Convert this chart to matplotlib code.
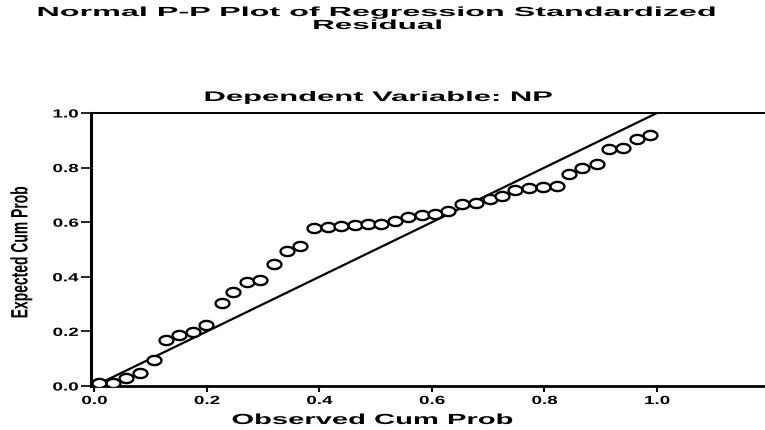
import matplotlib.pyplot as plt
import numpy as np
from matplotlib.path import Path
from matplotlib.patheffects import AbstractPathEffect
from matplotlib.transforms import Affine2D

# observed vs expected cumulative probability
observed = [0.009, 0.033, 0.057, 0.081, 0.106, 0.127, 0.150, 0.176, 0.199,
            0.227, 0.247, 0.272, 0.294, 0.320, 0.343, 0.365, 0.391, 0.416,
            0.439, 0.463, 0.487, 0.510, 0.534, 0.558, 0.582, 0.605, 0.629,
            0.653, 0.678, 0.703, 0.725, 0.748, 0.772, 0.797, 0.822, 0.844,
            0.867, 0.893, 0.915, 0.939, 0.964, 0.988]
expected = [0.011, 0.010, 0.030, 0.047, 0.094, 0.170, 0.188, 0.199, 0.225,
            0.305, 0.346, 0.382, 0.388, 0.446, 0.495, 0.514, 0.578, 0.582,
            0.585, 0.590, 0.594, 0.594, 0.603, 0.619, 0.627, 0.631, 0.642,
            0.666, 0.670, 0.685, 0.697, 0.719, 0.724, 0.729, 0.734, 0.776,
            0.798, 0.813, 0.867, 0.873, 0.904, 0.919]
ticks = [0.0, 0.2, 0.4, 0.6, 0.8, 1.0]
tick_labels = ["0.0", "0.2", "0.4", "0.6", "0.8", "1.0"]


class StretchX(AbstractPathEffect):
    # the scanned SPSS chart is squeezed into a wide image, so the text
    # looks extended; widen the glyphs in screen x about an anchor
    def __init__(self, sx, anchor="center"):
        super().__init__()
        self.sx = sx
        self.anchor = anchor

    def draw_path(self, renderer, gc, tpath, affine, rgbFace=None):
        xs = affine.transform(tpath.vertices)[:, 0]
        if self.anchor == "right":
            x0 = xs.max()
        else:
            x0 = (xs.min() + xs.max()) / 2
        wide = Affine2D().translate(-x0, 0).scale(self.sx, 1).translate(x0, 0)
        renderer.draw_path(gc, tpath, affine + wide, rgbFace)


plt.rcParams["font.family"] = ["Liberation Sans", "DejaVu Sans"]
plt.rcParams["font.weight"] = "bold"
plt.rcParams["axes.labelweight"] = "bold"

# flattened circle, like the stretched SPSS markers
t = np.linspace(0, 2 * np.pi, 40)
ellipse = Path(np.column_stack([np.cos(t), 0.66 * np.sin(t)]), closed=True)

fig = plt.figure(figsize=(7.65, 4.31), dpi=100)
ax = fig.add_axes([91 / 765, 44 / 431, 674 / 765, 273 / 431])

ax.plot([0, 1], [0, 1], color="black", lw=1.6, zorder=2)
ax.plot(observed, expected, linestyle="none", marker=ellipse, markersize=10,
        markerfacecolor="white", markeredgecolor="black", markeredgewidth=1.7,
        zorder=3)

ax.set_xlim(-0.006, 1.192)
ax.set_ylim(0, 1.0)
ax.set_xticks(ticks)
ax.set_xticklabels(tick_labels, fontsize=8.5, fontweight="bold")
ax.set_yticks(ticks)
ax.set_yticklabels(tick_labels, fontsize=8.5, fontweight="bold")
ax.tick_params(axis="x", direction="out", length=4, width=1.5, pad=2.5)
ax.tick_params(axis="y", direction="out", length=7, width=1.2, pad=2)
for lab in ax.get_xticklabels():
    lab.set_path_effects([StretchX(1.6)])
for lab in ax.get_yticklabels():
    lab.set_path_effects([StretchX(1.6, anchor="right")])

ax.spines["right"].set_visible(False)
ax.spines["left"].set_linewidth(2.2)
ax.spines["bottom"].set_linewidth(2.0)
ax.spines["top"].set_linewidth(1.4)

xl = ax.set_xlabel("Observed Cum Prob", fontsize=10.5, fontweight="bold",
                   va="center")
ax.xaxis.set_label_coords(0.418, -0.1245)
xl.set_path_effects([StretchX(2.0)])
yl = ax.set_ylabel("Expected Cum Prob", fontsize=10, fontweight="bold",
                   va="center")
ax.yaxis.set_label_coords(-0.104, 0.49)
yl.set_path_effects([StretchX(1.7)])

t1 = fig.text(376 / 765, 1 - 14 / 431, "Normal P-P Plot of Regression Standardized",
              ha="center", va="center", fontsize=9.5, fontweight="bold")
t2 = fig.text(377 / 765, 1 - 27 / 431, "Residual", ha="center", va="center",
              fontsize=9.5, fontweight="bold")
t3 = fig.text(378 / 765, 1 - 98 / 431, "Dependent Variable: NP", ha="center",
              va="center", fontsize=10, fontweight="bold")
t1.set_path_effects([StretchX(2.45)])
t2.set_path_effects([StretchX(2.38)])
t3.set_path_effects([StretchX(2.23)])

fig.savefig("out.png", dpi=100)
